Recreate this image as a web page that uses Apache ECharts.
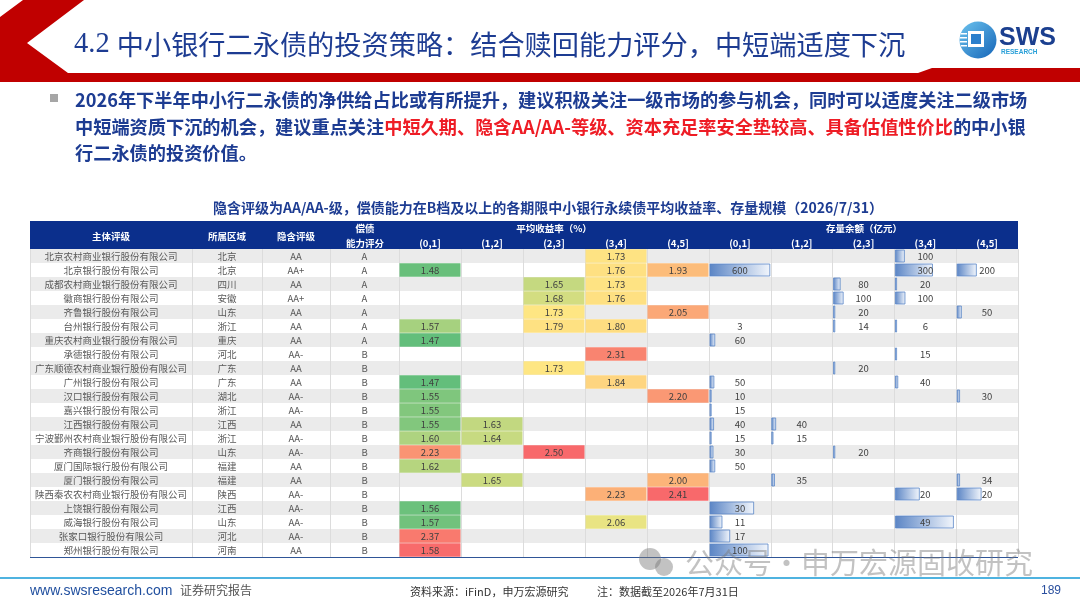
<!DOCTYPE html>
<html><head><meta charset="utf-8">
<script src="https://cdn.jsdelivr.net/npm/echarts@6/dist/echarts.min.js"></script>
<style>html,body{margin:0;padding:0;background:#fff;}#c{width:1080px;height:608px;}</style>
</head><body><div id="c"></div>
<script>
const N = null;
// ---------- data ----------
const rowNames = ['北京农村商业银行股份有限公司','北京银行股份有限公司','成都农村商业银行股份有限公司','徽商银行股份有限公司','齐鲁银行股份有限公司','台州银行股份有限公司','重庆农村商业银行股份有限公司','承德银行股份有限公司','广东顺德农村商业银行股份有限公司','广州银行股份有限公司','汉口银行股份有限公司','嘉兴银行股份有限公司','江西银行股份有限公司','宁波鄞州农村商业银行股份有限公司','齐商银行股份有限公司','厦门国际银行股份有限公司','厦门银行股份有限公司','陕西秦农农村商业银行股份有限公司','上饶银行股份有限公司','威海银行股份有限公司','张家口银行股份有限公司','郑州银行股份有限公司'];
const regions = ['北京','北京','四川','安徽','山东','浙江','重庆','河北','广东','广东','湖北','浙江','江西','浙江','山东','福建','福建','陕西','江西','山东','河北','河南'];
const impliedRatings = ['AA','AA+','AA','AA+','AA','AA','AA','AA-','AA','AA','AA-','AA-','AA','AA-','AA-','AA','AA','AA-','AA-','AA-','AA-','AA'];
const capacityScores = ['A','A','A','A','A','A','A','B','B','B','B','B','B','B','B','B','B','B','B','B','B','B'];
const tenorLabels = ['(0,1]','(1,2]','(2,3]','(3,4]','(4,5]'];

// average yield (%) by tenor
const yield01 = [N,1.48,N,N,N,1.57,1.47,N,N,1.47,1.55,1.55,1.55,1.60,2.23,1.62,N,N,1.56,1.57,2.37,1.58];
const yield12 = [N,N,N,N,N,N,N,N,N,N,N,N,1.63,1.64,N,N,1.65,N,N,N,N,N];
const yield23 = [N,N,1.65,1.68,1.73,1.79,N,N,1.73,N,N,N,N,N,2.50,N,N,N,N,N,N,N];
const yield34 = [1.73,1.76,1.73,1.76,N,1.80,N,2.31,N,1.84,N,N,N,N,N,N,N,2.23,N,2.06,N,N];
const yield45 = [N,1.93,N,N,2.05,N,N,N,N,N,2.20,N,N,N,N,N,2.00,2.41,N,N,N,N];

// outstanding balance (亿元) by tenor
const stock01 = [N,600,N,N,N,3,60,N,N,50,10,15,40,15,30,50,N,N,30,11,17,100];
const stock12 = [N,N,N,N,N,N,N,N,N,N,N,N,40,15,N,N,35,N,N,N,N,N];
const stock23 = [N,N,80,100,20,14,N,N,20,N,N,N,N,N,20,N,N,N,N,N,N,N];
const stock34 = [100,300,20,100,N,6,N,15,N,40,N,N,N,N,N,N,N,20,N,49,N,N];
const stock45 = [N,200,N,N,50,N,N,N,N,N,30,N,N,N,N,N,34,20,N,N,N,N];

// data-bar fill share of each balance cell
const barShare01 = [N,1.0,N,N,N,0,0.08,N,N,0.065,0.02,0.015,0.06,0.015,0.05,0.08,N,N,0.73,0.2,0.33,0.97];
const barShare12 = [N,N,N,N,N,N,N,N,N,N,N,N,0.065,0.015,N,N,0.045,N,N,N,N,N];
const barShare23 = [N,N,0.11,0.16,0.02,0.01,N,N,0.015,N,N,N,N,N,0.015,N,N,N,N,N,N,N];
const barShare34 = [0.15,0.62,0.02,0.16,N,0.01,N,0.015,N,0.04,N,N,N,N,N,N,N,0.4,N,0.97,N,N];
const barShare45 = [N,0.32,N,N,0.07,N,N,N,N,N,0.04,N,N,N,N,N,0.04,0.4,N,N,N,N];

// ---------- styles (cell colours as shown) ----------
const heat01 = [N,'#69bf7b',N,N,N,'#a6d17f','#63be7b',N,N,'#63be7b','#7fc67d','#82c77d','#82c77d','#aed380','#fa9473','#b6d57f',N,N,'#6cc17c','#72c27c','#f97a6e','#f86b6b'];
const heat12 = [N,N,N,N,N,N,N,N,N,N,N,N,'#c2d880','#c7da81',N,N,'#cbdb81',N,N,N,N,N];
const heat23 = [N,N,'#c5d980','#d3dd81','#fee683','#fee182',N,N,'#fee683',N,N,N,N,N,'#f8696b',N,N,N,N,N,N,N];
const heat34 = ['#fee383','#fee082','#fee383','#fee082',N,'#fedd81',N,'#f98470',N,'#fed580',N,N,N,N,N,N,N,'#fcb077',N,'#e9e483',N,N];
const heat45 = [N,'#fcbc7a',N,N,'#fba877',N,N,N,N,N,'#fa9874',N,N,N,N,N,'#fcb479','#f8696b',N,N,N,N];

const FONT = '"Noto Sans CJK SC","Noto Sans",sans-serif';
const TOP = 249, ROWH = 14, NR = rowNames.length, H = ROWH * NR;
const cols = [{left:30,width:162},{left:192,width:70},{left:262,width:68},{left:330,width:69},{left:399,width:310},{left:709,width:309}];

const yieldCols = [yield01,yield12,yield23,yield34,yield45];
const heatCols = [heat01,heat12,heat23,heat34,heat45];
const stockCols = [stock01,stock12,stock23,stock34,stock45];
const shareCols = [barShare01,barShare12,barShare23,barShare34,barShare45];

const heatCells = [];
yieldCols.forEach((col,t)=>col.forEach((v,r)=>{ if(v!=null) heatCells.push({t,r,v,color:heatCols[t][r]}); }));
const stockCells = [];
stockCols.forEach((col,t)=>col.forEach((v,r)=>{ if(v!=null) stockCells.push({t,r,v,share:shareCols[t][r]}); }));

function textCol(gi, arr){
  return {type:'custom', xAxisIndex:gi, yAxisIndex:gi, silent:true, z:5,
    data: arr.map((t,i)=>[0,i]),
    renderItem:(p,api)=>{ const pt=api.coord([api.value(0),api.value(1)]);
      return {type:'text', x:pt[0], y:pt[1]+0.5, style:{text:arr[p.dataIndex], align:'center', verticalAlign:'middle', fill:'#5a5a5a', fontSize:9.5, fontFamily:FONT}}; }
  };
}

const series = [
  textCol(0,rowNames), textCol(1,regions), textCol(2,impliedRatings), textCol(3,capacityScores),
  {type:'custom', xAxisIndex:4, yAxisIndex:4, silent:true, z:5,
   data: heatCells.map(c=>[c.t,c.r,c.v]),
   renderItem:(p,api)=>{ const c=heatCells[p.dataIndex]; const pt=api.coord([api.value(0),api.value(1)]); const sz=api.size([1,1]);
     return {type:'group', children:[
       {type:'rect', shape:{x:pt[0]-sz[0]/2+0.5, y:pt[1]-sz[1]/2+0.3, width:sz[0]-1, height:sz[1]-0.6}, style:{fill:c.color}},
       {type:'text', x:pt[0], y:pt[1]+0.5, style:{text:api.value(2).toFixed(2), align:'center', verticalAlign:'middle', fill:'#404040', fontSize:9.5, fontFamily:FONT}}
     ]}; }
  },
  {type:'custom', xAxisIndex:5, yAxisIndex:5, silent:true, z:5,
   data: stockCells.map(c=>[c.t,c.r,c.v]),
   renderItem:(p,api)=>{ const c=stockCells[p.dataIndex]; const pt=api.coord([api.value(0),api.value(1)]); const sz=api.size([1,1]);
     const x0=pt[0]-sz[0]/2+1, bw = c.share>0 ? Math.max(c.share*(sz[0]-2),1.2) : 0;
     const ch=[];
     if(bw>0) ch.push({type:'rect', shape:{x:x0, y:pt[1]-sz[1]/2+1, width:bw, height:sz[1]-2},
        style:{fill:new echarts.graphic.LinearGradient(0,0,1,0,[{offset:0,color:'#5b85c5'},{offset:1,color:'#f2f6fc'}]), stroke:'#5a86c6', lineWidth:0.8}});
     ch.push({type:'text', x:pt[0], y:pt[1]+0.5, style:{text:String(api.value(2)), align:'center', verticalAlign:'middle', fill:'#404040', fontSize:9.5, fontFamily:FONT}});
     return {type:'group', children:ch}; }
  }
];

const BLUE = '#1d3c92';
const option = {
  animation:false,
  backgroundColor:'#ffffff',
  grid: cols.map(c=>({left:c.left, width:c.width, top:TOP, height:H})),
  xAxis: cols.map((c,i)=>({type:'category', gridIndex:i, position:'top', data: i>=4 ? tenorLabels : [''],
    axisLine:{show:false}, axisTick:{show:false},
    axisLabel:{show:i>=4, color:'#ffffff', fontWeight:'bold', fontSize:9.5, margin:1, fontFamily:FONT, interval:0},
    splitLine:{show:true, interval:0, lineStyle:{color:'#dcdcdc', width:1}}, z:1})),
  yAxis: cols.map((c,i)=>({type:'category', gridIndex:i, inverse:true, data: rowNames,
    axisLine:{show:false}, axisTick:{show:false}, axisLabel:{show:false}, splitLine:{show:false},
    splitArea:{show:true, interval:0, areaStyle:{color:['#ebebeb','#ffffff']}}, z:0})),
  series: series,
  graphic: [
    // header decoration
    {type:'polygon', z:0, shape:{points:[[23,0],[84,0],[27,43],[68,73],[918,73],[932,68],[1080,68],[1080,82],[0,82],[0,17]]}, style:{fill:'#c00000'}},
    {type:'text', z:10, x:74, y:45, style:{text:'{a|4.2 }{b|中小银行二永债的投资策略：结合赎回能力评分，中短端适度下沉}',
      verticalAlign:'middle', rich:{a:{fontFamily:'"Liberation Serif",serif', fontSize:28.5, fill:BLUE}, b:{fontFamily:FONT, fontSize:27.2, fill:BLUE}}}},
    // logo
    {type:'circle', z:10, shape:{cx:978, cy:40, r:18.5}, style:{fill:new echarts.graphic.LinearGradient(0,0,1,1,[{offset:0,color:'#6cc3ee'},{offset:1,color:'#1565b8'}])}},
    {type:'rect', z:11, shape:{x:968, y:31, width:16, height:16}, style:{fill:'#ffffff'}},
    {type:'rect', z:12, shape:{x:971, y:34, width:10, height:10}, style:{fill:'#2a7fcc'}},
    {type:'rect', z:12, shape:{x:961, y:33, width:6, height:1.5}, style:{fill:'#ffffff'}},
    {type:'rect', z:12, shape:{x:960, y:37, width:7, height:1.5}, style:{fill:'#ffffff'}},
    {type:'rect', z:12, shape:{x:960, y:41, width:7, height:1.5}, style:{fill:'#ffffff'}},
    {type:'rect', z:12, shape:{x:961, y:45, width:6, height:1.5}, style:{fill:'#ffffff'}},
    {type:'text', z:10, x:999, y:38, style:{text:'SWS', fontFamily:'"Liberation Sans",Arial,sans-serif', fontWeight:'bold', fontSize:25, fill:'#1b3f8f', verticalAlign:'middle'}},
    {type:'text', z:10, x:1001, y:52, style:{text:'RESEARCH', fontFamily:'"Liberation Sans",Arial,sans-serif', fontWeight:'bold', fontSize:6.5, fill:'#2aa0d8', verticalAlign:'middle'}},
    // bullet text
    {type:'rect', z:10, shape:{x:50, y:94, width:8, height:8}, style:{fill:'#a6a6a6'}},
    {type:'text', z:10, x:75, y:100, style:{text:'2026年下半年中小行二永债的净供给占比或有所提升，建议积极关注一级市场的参与机会，同时可以适度关注二级市场', fontFamily:FONT, fontWeight:'bold', fontSize:18.2, fill:BLUE, verticalAlign:'middle'}},
    {type:'text', z:10, x:75, y:127, style:{text:'{b|中短端资质下沉的机会，建议重点关注}{r|中短久期、隐含AA/AA-等级、资本充足率安全垫较高、具备估值性价比}{b|的中小银}', verticalAlign:'middle',
      rich:{b:{fontFamily:FONT, fontWeight:'bold', fontSize:18.2, fill:BLUE}, r:{fontFamily:FONT, fontWeight:'bold', fontSize:18.2, fill:'#ee1c25'}}}},
    {type:'text', z:10, x:75, y:153, style:{text:'行二永债的投资价值。', fontFamily:FONT, fontWeight:'bold', fontSize:18.2, fill:BLUE, verticalAlign:'middle'}},
    // chart title
    {type:'text', z:10, x:548, y:207.5, style:{text:'隐含评级为AA/AA-级，偿债能力在B档及以上的各期限中小银行永续债平均收益率、存量规模（2026/7/31）', fontFamily:FONT, fontWeight:'bold', fontSize:14, fill:BLUE, align:'center', verticalAlign:'middle'}},
    // table header
    {type:'rect', z:0, shape:{x:30, y:221, width:988, height:28}, style:{fill:'#0b2f8c'}},
    {type:'text', z:10, x:111, y:236, style:{text:'主体评级', fontFamily:FONT, fontWeight:'bold', fontSize:9.5, fill:'#fff', align:'center', verticalAlign:'middle'}},
    {type:'text', z:10, x:227, y:236, style:{text:'所属区域', fontFamily:FONT, fontWeight:'bold', fontSize:9.5, fill:'#fff', align:'center', verticalAlign:'middle'}},
    {type:'text', z:10, x:296, y:236, style:{text:'隐含评级', fontFamily:FONT, fontWeight:'bold', fontSize:9.5, fill:'#fff', align:'center', verticalAlign:'middle'}},
    {type:'text', z:10, x:365, y:228.5, style:{text:'偿债', fontFamily:FONT, fontWeight:'bold', fontSize:9.5, fill:'#fff', align:'center', verticalAlign:'middle'}},
    {type:'text', z:10, x:365, y:243, style:{text:'能力评分', fontFamily:FONT, fontWeight:'bold', fontSize:9.5, fill:'#fff', align:'center', verticalAlign:'middle'}},
    {type:'text', z:10, x:554, y:228.5, style:{text:'平均收益率（%）', fontFamily:FONT, fontWeight:'bold', fontSize:9.5, fill:'#fff', align:'center', verticalAlign:'middle'}},
    {type:'text', z:10, x:864, y:228.5, style:{text:'存量余额（亿元）', fontFamily:FONT, fontWeight:'bold', fontSize:9.5, fill:'#fff', align:'center', verticalAlign:'middle'}},
    // table bottom rule
    {type:'line', z:10, shape:{x1:30, y1:557.5, x2:1018, y2:557.5}, style:{stroke:'#2f5597', lineWidth:1}},
    // watermark
    {type:'circle', z:20, shape:{cx:650, cy:559, r:11}, style:{fill:'rgba(120,120,120,0.45)'}},
    {type:'circle', z:20, shape:{cx:664, cy:567, r:9}, style:{fill:'rgba(120,120,120,0.45)'}},
    {type:'text', z:20, x:685, y:563, style:{text:'公众号·申万宏源固收研究', fontFamily:FONT, fontSize:29, fill:'rgba(120,120,120,0.45)', verticalAlign:'middle'}},
    // footer
    {type:'rect', z:10, shape:{x:0, y:577, width:1080, height:2}, style:{fill:'#4fb3e0'}},
    {type:'text', z:10, x:30, y:591, style:{text:'www.swsresearch.com', fontFamily:'"Liberation Sans",Arial,sans-serif', fontSize:14, fill:'#1f4e9e', verticalAlign:'middle'}},
    {type:'text', z:10, x:180, y:590, style:{text:'证券研究报告', fontFamily:FONT, fontSize:12, fill:'#555555', verticalAlign:'middle'}},
    {type:'text', z:10, x:410, y:592, style:{text:'资料来源：iFinD，申万宏源研究', fontFamily:FONT, fontSize:11, fill:'#333333', verticalAlign:'middle'}},
    {type:'text', z:10, x:597, y:592, style:{text:'注：数据截至2026年7月31日', fontFamily:FONT, fontSize:11, fill:'#333333', verticalAlign:'middle'}},
    {type:'text', z:10, x:1041, y:591, style:{text:'189', fontFamily:'"Liberation Sans",Arial,sans-serif', fontSize:12, fill:'#2a4f9e', verticalAlign:'middle'}}
  ]
};
const chart = echarts.init(document.getElementById('c'), null, {renderer:'canvas', width:1080, height:608});
chart.setOption(option);
</script></body></html>
